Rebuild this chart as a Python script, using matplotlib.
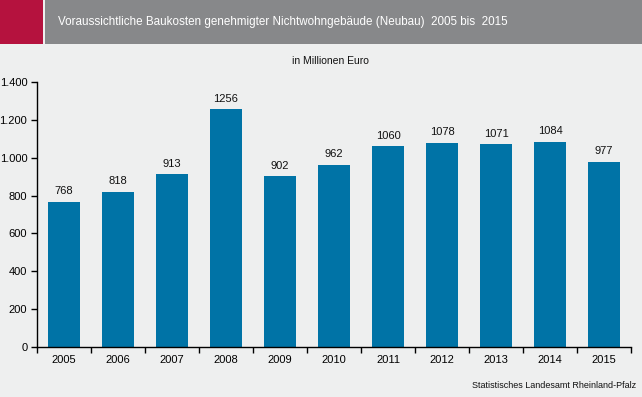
import matplotlib
matplotlib.use("Agg")
import matplotlib.pyplot as plt
from matplotlib.patches import Rectangle

plt.rcParams["font.family"] = ["Liberation Sans", "DejaVu Sans"]

years = ["2005", "2006", "2007", "2008", "2009", "2010", "2011", "2012", "2013", "2014", "2015"]
costs = [768, 818, 913, 1256, 902, 962, 1060, 1078, 1071, 1084, 977]
yticks = [0, 200, 400, 600, 800, 1000, 1200, 1400]
ytick_labels = ["0", "200", "400", "600", "800", "1.000", "1.200", "1.400"]

W, H = 642, 397
BG = "#EEEFEF"
fig = plt.figure(figsize=(W / 100, H / 100), dpi=100, facecolor=BG)

# header band
fig.patches.append(Rectangle((0, 1 - 44 / H), 43 / W, 44 / H, transform=fig.transFigure,
                             facecolor="#B5123E", edgecolor="none"))
fig.patches.append(Rectangle((45 / W, 1 - 44 / H), 1 - 45 / W, 44 / H, transform=fig.transFigure,
                             facecolor="#87888A", edgecolor="none"))
fig.text(58 / W, 1 - 22 / H, "Voraussichtliche Baukosten genehmigter Nichtwohngebäude (Neubau)  2005 bis  2015",
         color="white", fontsize=8.4, va="center", ha="left")
fig.text(330 / W, 1 - 61 / H, "in Millionen Euro", fontsize=7.5, ha="center", va="center", color="#111111")
fig.text(636 / W, 1 - 385 / H, "Statistisches Landesamt Rheinland-Pfalz", fontsize=6.5,
         ha="right", va="center", color="#111111")

ax = fig.add_axes([37 / W, (H - 347) / H, (631 - 37) / W, (347 - 82) / H])
ax.set_facecolor(BG)
x = range(len(years))
bars = ax.bar(x, costs, width=0.6, color="#0073A6")
for xi, v in zip(x, costs):
    ax.text(xi, v + 30, str(v), ha="center", va="bottom", fontsize=8, color="#111111")

ax.set_xlim(-0.5, len(years) - 0.5)
ax.set_ylim(0, 1400)
ax.set_yticks(yticks)
ax.set_yticklabels(ytick_labels, fontsize=8)
ax.set_xticks(list(x))
ax.set_xticklabels(years, fontsize=8)
ax.set_xticks([i + 0.5 for i in range(-1, len(years))], minor=True)
ax.tick_params(axis="x", which="major", length=0, pad=6)
ax.tick_params(axis="x", which="minor", length=4, direction="out", width=1)
ax.tick_params(axis="y", length=4, direction="out", width=1, pad=3)
for s in ["top", "right"]:
    ax.spines[s].set_visible(False)
ax.spines["left"].set_linewidth(1)
ax.spines["bottom"].set_linewidth(1)

fig.savefig("out.png", dpi=100, facecolor=BG)
